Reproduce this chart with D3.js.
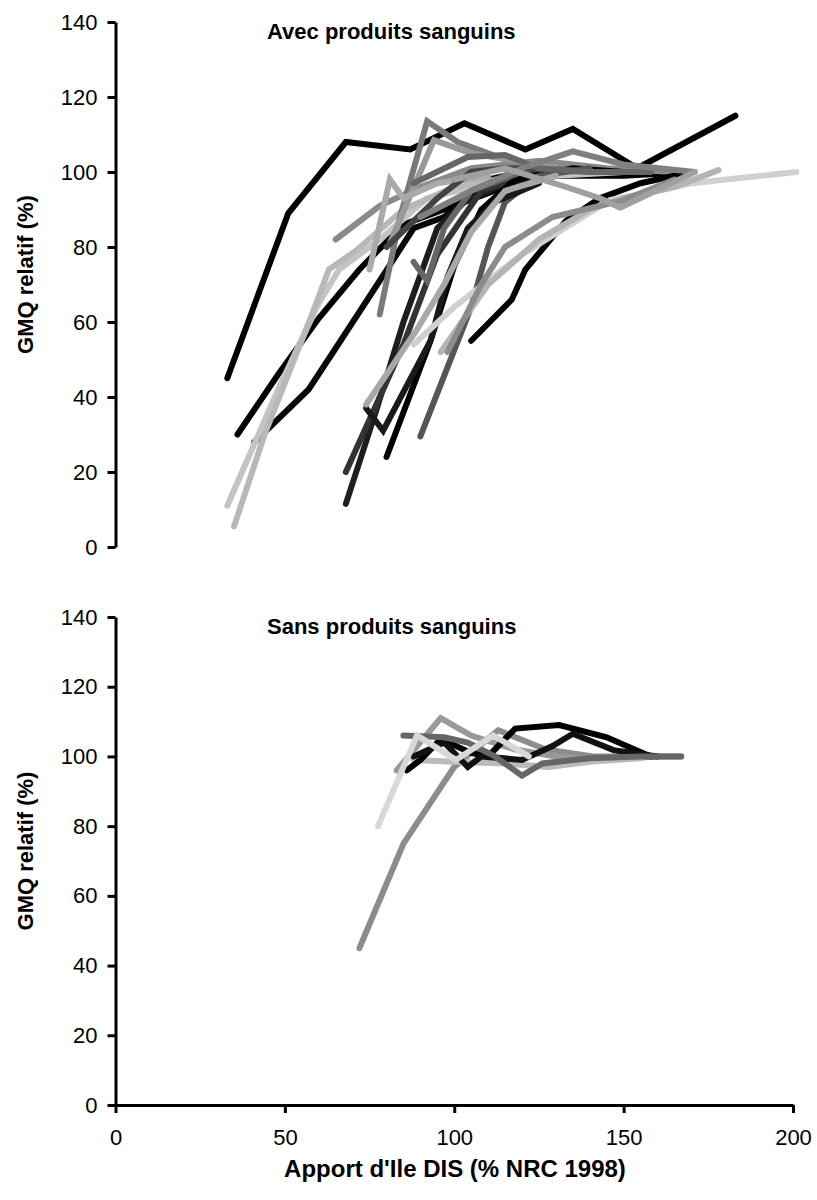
<!DOCTYPE html>
<html>
<head>
<meta charset="utf-8">
<script src="https://cdn.jsdelivr.net/npm/d3@7"></script>
<style>
  body { margin: 0; background: #fff; }
  text { font-family: Arial, 'Liberation Sans', sans-serif; }
</style>
</head>
<body>
<div id="chart"></div>
<script>
// values: [apport % NRC, GMQ relatif %]
const avecLines = [
  [[33,45],[51,89],[68,108],[87,106],[103,113],[121,106],[135,111.5],[154,101],[183,115]],
  [[36,30],[48,46],[60,61],[72,74],[85,86],[100,91],[115,96],[130,99],[150,99],[170,100]],
  [[41,28],[57,42],[65,53],[78,71],[88,85],[97,88],[110,98],[125,101],[145,100],[170,100]],
  [[65,82],[78,91],[90,96],[105,101],[125,103],[145,101],[165,100]],
  [[33,11],[48,42],[60,65],[66,74],[78,82],[92,93],[110,97],[130,99],[150,100]],
  [[35,5.5],[44,30],[58,62],[63,74],[71,79],[85,90],[100,96],[125,100],[150,100]],
  [[78,62],[84,88],[92,113.5],[101,108],[113,104],[125,101],[140,100]],
  [[81,81],[94,108.5],[105,105],[118,103],[135,100]],
  [[75,74],[81,98],[85,93],[95,97],[110,99]],
  [[68,11.5],[77,36.5],[85,60],[95,85],[103,92],[115,97],[130,100]],
  [[68,20],[75,34],[85,54],[95,78],[108,95],[125,100]],
  [[80,24],[93,55],[100,75],[108,90],[118,98],[135,101],[150,100]],
  [[90,29.5],[105,64],[110,80],[115,92],[125,99],[140,101]],
  [[74,37],[79,31],[93,55],[98,72],[104,85],[112,92],[125,97]],
  [[74,38],[89,58],[97,70],[105,84],[115,95],[130,99]],
  [[88,76],[92,71],[97,85],[105,95],[120,100]],
  [[105,55],[117,66],[121,74],[133,87],[143,93],[155,97],[170,100]],
  [[88,54],[100,64],[120,78],[146,92.5],[170,97],[201,100]],
  [[96,52],[110,70],[125,82],[140,90],[150,93],[165,96],[178,100.5]],
  [[98,52],[108,70],[115,80],[129,88],[150,92.5],[165,98]],
  [[80,80],[95,93],[105,100],[115,101],[136,100.5]],
  [[88,97],[104,104],[115,104.5],[125,101],[140,100],[158,100]],
  [[90,88],[105,95],[120,101],[135,105.5],[150,102],[171,100]],
  [[100,98],[115,101],[133,96],[143,93],[149,90.5],[171,100]]
]
const avecShades = [
  '#000', '#000', '#080808', '#8a8a8a', '#c4c4c4', '#b8b8b8', '#7a7a7a', '#999',
  '#aaa', '#1e1e1e', '#333', '#000', '#555', '#1a1a1a', '#a8a8a8', '#666',
  '#000', '#d0d0d0', '#b4b4b4', '#8c8c8c', '#444', '#666', '#808080', '#a0a0a0'
]

const sansLines = [
  [[72,45],[85,75],[100,97],[113,107.5],[127,102],[141,100],[167,100]],
  [[83,96],[96,111],[105,106],[118,102],[130,100],[142,99],[160,100]],
  [[88,99],[100,98.5],[115,98],[128,97],[140,98.5],[155,99.5]],
  [[86,96],[90,99],[96,105],[105,101],[110,100],[118,108],[131,109],[145,105.5],[158,100]],
  [[88,100],[97,104],[104,97],[108,100],[120,99],[129,103],[135,106.5],[147,101.8],[160,100]],
  [[85,106],[97,105.5],[104,104],[112,100],[120,94.5],[126,98],[140,99.5],[155,100],[167,100]],
  [[77.5,80],[89,106],[100.5,99],[111.5,106],[122,100]]
]
const sansShades = ['#8c8c8c', '#999', '#bbb', '#000', '#111', '#666', '#d8d8d8']

const xTicks = [0, 50, 100, 150, 200]
const yTicks = [0, 20, 40, 60, 80, 100, 120, 140]
const titles = ['Avec produits sanguins', 'Sans produits sanguins']
const yLabel = 'GMQ relatif  (%)'
const xLabel = "Apport d'Ile DIS (% NRC 1998)"

const width = 817
const height = 1200
const left = 115.5
const right = 793

const svg = d3.select('#chart')
  .append('svg')
    .attr('width', width)
    .attr('height', height)

const xScale = d3.scaleLinear()
  .domain([0, 200])
  .range([left, right])

const drawPanel = (lines, shades, title, top, bottom, showX) => {
  const yScale = d3.scaleLinear()
    .domain([0, 140])
    .range([bottom, top])

  const line = d3.line()
    .x(d => xScale(d[0]))
    .y(d => yScale(d[1]))

  svg.append('g')
    .selectAll('path')
    .data(lines)
    .join('path')
      .attr('d', line)
      .attr('fill', 'none')
      .attr('stroke', (d, i) => shades[i])
      .attr('stroke-width', 6)
      .attr('stroke-linecap', 'round')
      .attr('stroke-linejoin', 'miter')

  const yAxis = svg.append('g')
    .attr('transform', `translate(${left},0)`)
    .call(d3.axisLeft(yScale).tickValues(yTicks).tickSize(8).tickSizeOuter(0).tickPadding(10))
  yAxis.selectAll('path, line').attr('stroke', '#000').attr('stroke-width', 3)
  yAxis.selectAll('text').attr('font-size', 22).attr('fill', '#000')
    .style('font-family', 'Arial, Liberation Sans, sans-serif')

  if (showX) {
    const xAxis = svg.append('g')
      .attr('transform', `translate(0,${bottom})`)
      .call(d3.axisBottom(xScale).tickValues(xTicks).tickSize(8).tickSizeOuter(0).tickPadding(16))
    xAxis.selectAll('path, line').attr('stroke', '#000').attr('stroke-width', 3)
    xAxis.selectAll('text').attr('font-size', 22).attr('fill', '#000')
      .style('font-family', 'Arial, Liberation Sans, sans-serif')
  }

  svg.append('text')
    .attr('x', 267)
    .attr('y', top + 17)
    .attr('font-size', 22)
    .attr('font-weight', 'bold')
    .text(title)

  svg.append('text')
    .attr('transform', `translate(33,${(top + bottom) / 2 - 10}) rotate(-90)`)
    .attr('text-anchor', 'middle')
    .attr('font-size', 22)
    .attr('font-weight', 'bold')
    .text(yLabel)
}

drawPanel(avecLines, avecShades, titles[0], 22, 547, false)
drawPanel(sansLines, sansShades, titles[1], 617, 1105, true)

svg.append('text')
  .attr('x', 455)
  .attr('y', 1177)
  .attr('text-anchor', 'middle')
  .attr('font-size', 24)
  .attr('font-weight', 'bold')
  .text(xLabel)
</script>
</body>
</html>
